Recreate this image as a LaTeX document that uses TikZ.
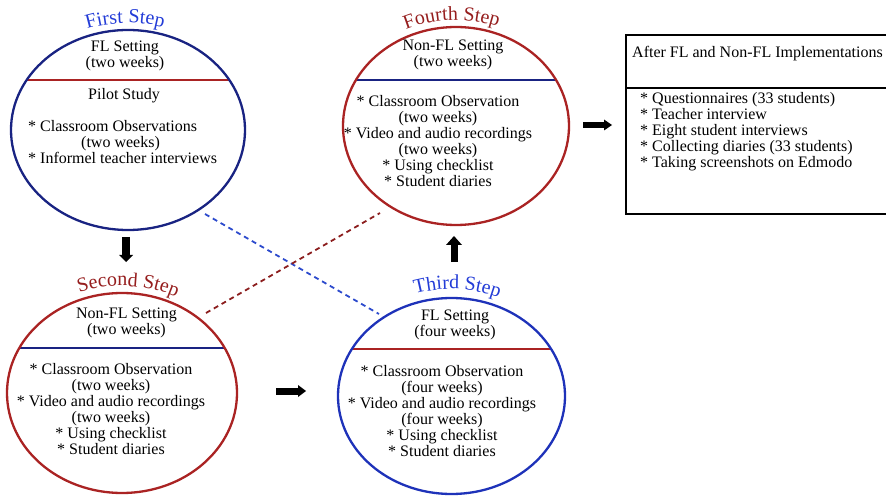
\documentclass[tikz,border=0pt]{standalone}
\usepackage{fontspec}
\setmainfont{Liberation Serif}
\usetikzlibrary{shapes.geometric,decorations.text,arrows.meta,calc}
\definecolor{navy}{RGB}{25,35,130}
\definecolor{dred}{RGB}{170,35,35}
\definecolor{bblue}{RGB}{30,50,185}
\definecolor{tblue}{RGB}{35,60,215}
\definecolor{tred}{RGB}{150,30,30}
\definecolor{dashblue}{RGB}{45,75,205}
\definecolor{dashred}{RGB}{140,30,30}
\begin{document}
\begin{tikzpicture}[x=1pt,y=1pt,
  stepell/.style={ellipse, draw, line width=2.3pt, inner sep=0pt},
  body/.style={font=\fontsize{16}{16}\selectfont, align=center, inner sep=0pt},
  divline/.style={line width=1.8pt},
  dashconn/.style={line width=1.8pt, dash pattern=on 5pt off 4pt},
  titletext/.style={decorate, decoration={text along path, text align=center, text color=#1}},
]
\useasboundingbox (0,0) rectangle (886,496);

% dividers (clipped to the ellipses)
\begin{scope}
  \clip (128,366) ellipse [x radius=117, y radius=100];
  \draw[divline, dred] (0,416) -- (300,416);
\end{scope}
\begin{scope}
  \clip (456,370) ellipse [x radius=113, y radius=99];
  \draw[divline, navy] (300,416) -- (600,416);
\end{scope}
\begin{scope}
  \clip (122,103) ellipse [x radius=115, y radius=100];
  \draw[divline, navy] (0,148) -- (300,148);
\end{scope}
\begin{scope}
  \clip (451.5,100) ellipse [x radius=113.5, y radius=98];
  \draw[divline, dred] (300,147) -- (600,147);
\end{scope}

% ellipses
\node[stepell, draw=navy, minimum width=234pt, minimum height=200pt] (first) at (128,366) {};
\node[stepell, draw=dred, minimum width=226pt, minimum height=198pt] (fourth) at (456,370) {};
\node[stepell, draw=dred, minimum width=230pt, minimum height=200pt] (second) at (122,103) {};
\node[stepell, draw=bblue, minimum width=227pt, minimum height=196pt] (third) at (451.5,100) {};

% titles
\path[titletext=tblue, decoration={text={|\fontsize{20}{20}\selectfont|First Step}}]
  ($(first.center)+(141.4:124 and 107)$) arc[start angle=141.4, end angle=41.4, x radius=124, y radius=107];
\path[titletext=tred, decoration={text={|\fontsize{20}{20}\selectfont|Fourth Step}}]
  ($(fourth.center)+(142.2:120 and 106)$) arc[start angle=142.2, end angle=42.2, x radius=120, y radius=106];
\path[titletext=tred, decoration={text={|\fontsize{20}{20}\selectfont|Second Step}}]
  ($(second.center)+(136.9:122 and 107)$) arc[start angle=136.9, end angle=36.9, x radius=122, y radius=107];
\path[titletext=tblue, decoration={text={|\fontsize{20}{20}\selectfont|Third Step}}]
  ($(third.center)+(137.1:122 and 107)$) arc[start angle=137.1, end angle=37.1, x radius=122, y radius=107];

% texts
\node[body] (first-top) at (125,440) {FL Setting\\(two weeks)};
\node[body] (first-pilot) at (124,400) {Pilot Study};
\node[body, align=left, anchor=west] (first-list) at (28,353.5)
  {* Classroom Observations\\\hspace*{53pt}(two weeks)\\* Informel teacher interviews};

\node[body] (fourth-top) at (453,441.5) {Non-FL Setting\\(two weeks)};
\node[body] (fourth-list) at (438,355)
  {* Classroom Observation\\(two weeks)\\* Video and audio recordings\\(two weeks)\\* Using checklist\\* Student diaries};

\node[body] (second-top) at (126.5,173) {Non-FL Setting\\(two weeks)};
\node[body] (second-list) at (111,87)
  {* Classroom Observation\\(two weeks)\\* Video and audio recordings\\(two weeks)\\* Using checklist\\* Student diaries};

\node[body] (third-top) at (455,171) {FL Setting\\(four weeks)};
\node[body] (third-list) at (442,85)
  {* Classroom Observation\\(four weeks)\\* Video and audio recordings\\(four weeks)\\* Using checklist\\* Student diaries};

% box
\node[draw, line width=1.8pt, anchor=north west, minimum width=265pt, minimum height=179pt, inner sep=0pt] (box) at (625,462) {};
\draw[line width=1.5pt] ($(box.north west)+(0,-54)$) -- ($(box.north east)+(0,-54)$);
\node[body, anchor=west] (box-title) at (632,442) {After FL and Non-FL Implementations};
\node[body, align=left, anchor=west] (box-list) at (640,364)
  {* Questionnaires (33 students)\\* Teacher interview\\* Eight student interviews\\* Collecting diaries (33 students)\\* Taking screenshots on Edmodo};

% dashed connectors
\draw[dashconn, dashblue] ([shift={(77,-84)}]first.center) -- ([shift={(-72.5,82)}]third.center);
\draw[dashconn, dashred] ([shift={(84,80)}]second.center) -- ([shift={(-76,-87)}]fourth.center);

% block arrows
\coordinate (a1s) at (126,259); \coordinate (a1e) at (126,234);
\coordinate (a2s) at (276,105); \coordinate (a2e) at (306,105);
\coordinate (a3s) at (454,234); \coordinate (a3e) at (454,260);
\coordinate (a4s) at (583,371); \coordinate (a4e) at (612,371);
\draw[line width=8.5pt, -{Triangle[length=7pt,width=14pt,line width=0pt]}] (a1s) -- (a1e);
\draw[line width=7pt, -{Triangle[length=8pt,width=12pt,line width=0pt]}] (a2s) -- (a2e);
\draw[line width=7pt, -{Triangle[length=9pt,width=16pt,line width=0pt]}] (a3s) -- (a3e);
\draw[line width=6pt, -{Triangle[length=8pt,width=11pt,line width=0pt]}] (a4s) -- (a4e);
\end{tikzpicture}
\end{document}
